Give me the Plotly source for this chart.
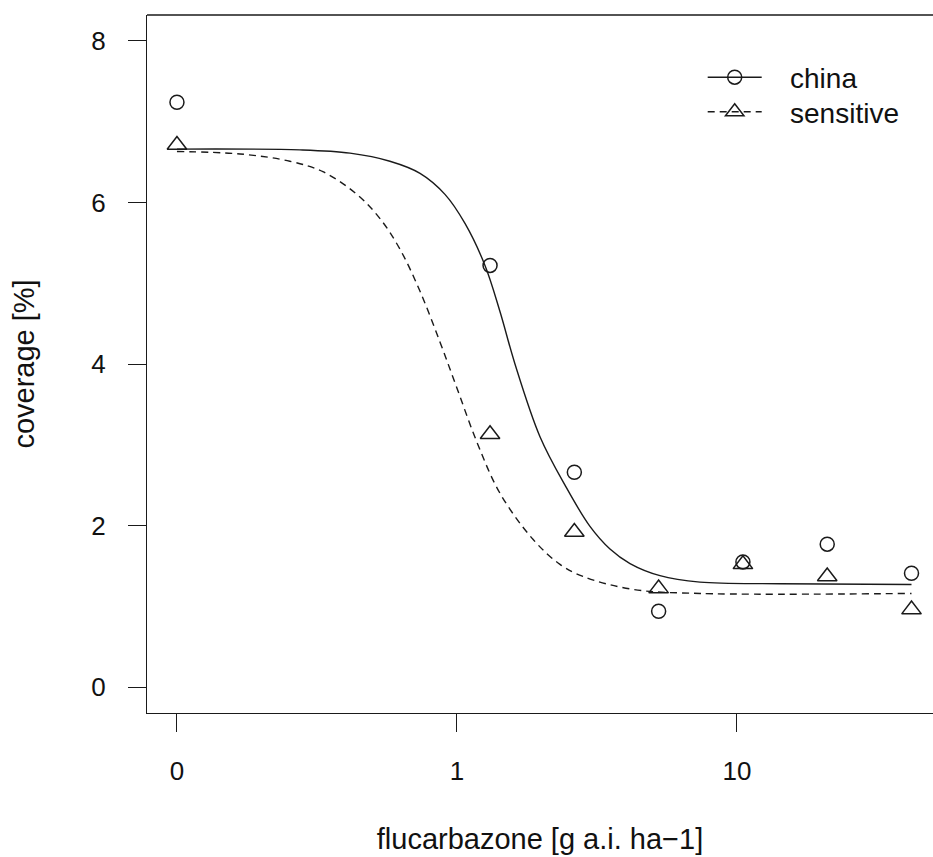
import plotly.graph_objects as go

# ---- data ----
doses = [0, 1.3125, 2.625, 5.25, 10.5, 21, 42]
china = [7.24, 5.22, 2.66, 0.94, 1.55, 1.77, 1.41]
sensitive = [6.71, 3.13, 1.92, 1.22, 1.52, 1.37, 0.96]

# fitted dose-response curves
china_curve_dose = [0.1, 0.275, 0.415, 0.576, 0.738, 0.906, 1.068, 1.259, 1.424, 1.611,
                    1.979, 2.431, 2.985, 3.519, 4.149, 5.309, 7.378, 14.24, 42]
china_curve_val = [6.66, 6.65, 6.61, 6.51, 6.36, 6.10, 5.74, 5.22, 4.65, 4.00,
                   3.10, 2.50, 1.99, 1.71, 1.53, 1.38, 1.30, 1.28, 1.27]
sens_curve_dose = [0.1, 0.168, 0.253, 0.332, 0.439, 0.531, 0.626, 0.738, 0.870, 1.0,
                   1.179, 1.424, 1.868, 2.333, 2.818, 4.252, 7.378, 42]
sens_curve_val = [6.63, 6.60, 6.51, 6.38, 6.10, 5.80, 5.42, 4.90, 4.27, 3.70,
                  3.03, 2.40, 1.83, 1.52, 1.37, 1.21, 1.16, 1.16]

xtick_vals = [0.1, 1, 10]
xtick_text = ["0", "1", "10"]
ytick_vals = [0, 2, 4, 6, 8]

ZERO_POS = 0.1  # where dose 0 is drawn on the log axis
plot_doses = [d if d > 0 else ZERO_POS for d in doses]

FONT = "Liberation Sans, Arial, Helvetica, sans-serif"
LC = "#1a1a1a"
NB = "\u00a0"

fig = go.Figure()
fig.add_trace(go.Scatter(x=china_curve_dose, y=china_curve_val, mode="lines",
                         line=dict(color=LC, width=1.4, shape="spline", smoothing=1.0),
                         showlegend=False))
fig.add_trace(go.Scatter(x=sens_curve_dose, y=sens_curve_val, mode="lines",
                         line=dict(color=LC, width=1.4, dash="7px,5px", shape="spline",
                                   smoothing=1.0),
                         showlegend=False))
fig.add_trace(go.Scatter(x=plot_doses, y=china, mode="markers",
                         marker=dict(symbol="circle-open", size=14, color=LC,
                                     line=dict(width=1.5, color=LC)), showlegend=False))
fig.add_trace(go.Scatter(x=plot_doses, y=sensitive, mode="markers",
                         marker=dict(symbol="triangle-up-open", size=17, color=LC,
                                     line=dict(width=1.5, color=LC)), showlegend=False))
# legend entries
fig.add_trace(go.Scatter(x=[None], y=[None], mode="lines+markers", name=NB * 3 + "china",
                         legend="legend",
                         line=dict(color=LC, width=1.4),
                         marker=dict(symbol="circle-open", size=14, color=LC,
                                     line=dict(width=1.5, color=LC))))
fig.add_trace(go.Scatter(x=[None], y=[None], mode="lines+markers", name=NB * 3 + "sensitive",
                         legend="legend2",
                         line=dict(color=LC, width=1.4, dash="7px,5px"),
                         marker=dict(symbol="triangle-up-open", size=17, color=LC,
                                     line=dict(width=1.5, color=LC))))

leg_common = dict(xanchor="left", yanchor="top", bgcolor="rgba(0,0,0,0)",
                  itemwidth=54, font=dict(size=28))
fig.update_layout(
    width=933, height=857,
    margin=dict(l=147, r=0, t=15, b=144),
    paper_bgcolor="white", plot_bgcolor="white",
    font=dict(family=FONT, size=26, color="#111"),
    showlegend=True,
    legend=dict(x=0.707, y=0.9463, **leg_common),
    legend2=dict(x=0.707, y=0.8968, **leg_common),
)
# top border of the box (right side lies beyond the picture edge)
fig.add_shape(type="line", xref="paper", yref="paper", x0=0, x1=1.02, y0=1, y1=1,
              line=dict(color=LC, width=1.4))
fig.update_xaxes(type="log", range=[-1.107, 1.700],
                 tickvals=xtick_vals, ticktext=xtick_text,
                 ticks="outside", ticklen=18, tickwidth=1.2, tickcolor=LC,
                 showline=True, linecolor=LC, linewidth=1.4, mirror=False,
                 showgrid=False, zeroline=False, ticklabelstandoff=17,
                 title=dict(text="flucarbazone [g a.i. ha\u22121]", standoff=43,
                            font=dict(size=29)))
fig.update_yaxes(range=[-0.32, 8.32], tickvals=ytick_vals,
                 ticks="outside", ticklen=18, tickwidth=1.2, tickcolor=LC,
                 showline=True, linecolor=LC, linewidth=1.4,
                 showgrid=False, zeroline=False, ticklabelstandoff=17,
                 title=dict(text="coverage [%]", standoff=47, font=dict(size=29)))

fig.write_html("out.html",
               post_script="document.documentElement.style.overflow='hidden';"
                           "document.body.style.overflow='hidden';"
                           "document.body.style.margin='0';")
